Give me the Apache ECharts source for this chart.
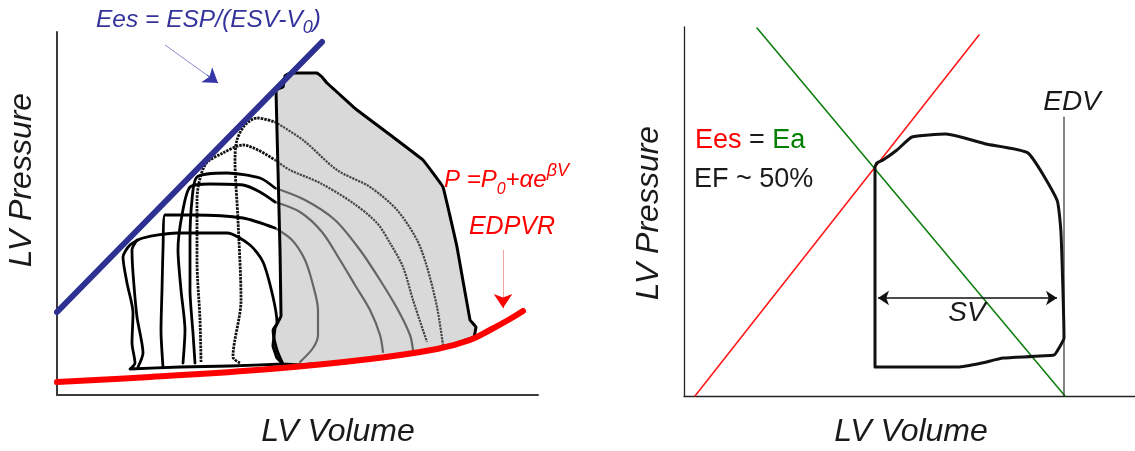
<!DOCTYPE html>
<html><head><meta charset="utf-8">
<script src="https://cdn.jsdelivr.net/npm/echarts@6/dist/echarts.min.js"></script>
<style>html,body{margin:0;padding:0;background:#fff}#c{width:1135px;height:451px}</style>
</head><body><div id="c"></div>
<script>
// ---------- LEFT PANEL (volume units, pressure units) ----------
var espvrLine = [[0, 83], [265, 353]];
var edpvrCurve = [[0, 13], [93, 18], [213, 26], [313, 36], [380, 46], [413, 55], [433, 65], [453, 76], [466, 84]];
var grayLoop = [[226,31],[220,37],[216,49],[218,67],[224,79],[223,145],[221,225],[219,305],[226,308],[228,319],[233,322],[260,322],[265,318],[270,312],[300,285],[336,258],[366,235],[386,208],[400,148],[413,75],[419,68],[417,58],[393,50],[363,43],[323,38],[283,33],[243,30],[226,31]];
var arcG1 = [[218,273],[246,255],[280,225],[313,208],[340,185],[360,155],[370,128],[380,88],[386,50]];
var arcG2 = [[218,235],[233,225],[263,212],[296,192],[320,172],[333,152],[346,128],[356,95],[370,53]];
var arcG3 = [[218,207],[248,195],[278,175],[303,145],[323,115],[341,85],[353,60],[356,45]];
var arcG4 = [[218,193],[243,183],[265,163],[283,135],[298,110],[313,85],[323,60],[326,43]];
var arcG5 = [[218,167],[235,155],[248,135],[256,110],[261,85],[261,60],[256,47],[243,33]];
var loopL1 = [[226,31],[173,29],[123,28],[73,26],[78,32],[75,52],[76,82],[70,112],[66,138],[73,150],[86,157],[120,162],[170,162],[193,150],[206,133],[216,98],[220,72],[216,65],[220,45],[226,31]];
var loopL0 = [[81,28],[86,42],[80,78],[76,122],[75,145],[80,155]];
var loopS3 = [[218,167],[186,177],[136,180],[108,180],[106,145],[105,105],[104,65],[106,28]];
var loopS2 = [[126,32],[128,65],[124,105],[121,145],[125,180],[133,208],[153,211],[186,210],[203,203],[218,193]];
var loopS1 = [[138,32],[136,62],[133,105],[133,155],[135,195],[140,218],[170,222],[203,217],[218,207]];
var loopD2 = [[144,33],[143,75],[140,135],[140,195],[148,230],[166,242],[186,250],[218,235]];
var loopD1 = [[183,32],[176,38],[184,95],[181,175],[178,235],[180,255],[188,270],[200,277],[218,273]];
var blueArrowShaft = [[108,350],[161,312]];
var blueArrowHead = [[150,320],[161,312]];
var redArrowShaft = [[446,145],[446,92]];
var redArrowHead = [[446,97],[446,87]];

// ---------- RIGHT PANEL ----------
var eesLine = [[11, 0], [295, 361]];
var eaLine = [[73, 368], [381, 0]];
var edvLine = [[380, 279], [380, 0]];
var pvLoop = [[191,29],[191,229],[193,233],[199,236],[213,246],[228,259],[262,262],[302,252],[344,243],[373,196],[377,163],[380,58],[375,48],[370,41],[319,38],[298,33],[274,29],[247,29],[191,29]];
var svArrow = [[194, 98], [373, 98]];

// ---------- labels ----------
var axisTitles = { pressure: 'LV Pressure', volume: 'LV Volume' };

var FF = '"Liberation Sans", Arial, sans-serif';
var chart = echarts.init(document.getElementById('c'), null, { renderer: 'canvas' });

function axisX(grid, max, lw, col) {
  return { gridIndex: grid, type: 'value', min: 0, max: max,
    axisLine: { show: true, onZero: false, lineStyle: { color: col, width: lw } },
    axisTick: { show: false }, axisLabel: { show: false }, splitLine: { show: false } };
}
function ln(data, color, width, opts) {
  return { type: 'line', data: data, xAxisIndex: opts.g, yAxisIndex: opts.g,
    showSymbol: false, symbol: 'none', smooth: opts.smooth || false, silent: true,
    lineStyle: { color: color, width: width, type: opts.type || 'solid', cap: opts.cap || 'round', join: 'round' },
    z: opts.z || 3 };
}
function arrow(data, color, width, g, sym, size, z) {
  return { type: 'lines', coordinateSystem: 'cartesian2d', xAxisIndex: g, yAxisIndex: g, silent: true,
    symbol: sym, symbolSize: size, z: z || 6,
    lineStyle: { color: color, width: width, opacity: 1, curveness: 0 },
    data: [{ coords: data }] };
}

var series = [
  { type: 'custom', xAxisIndex: 0, yAxisIndex: 0, data: grayLoop, silent: true, z: 1,
    renderItem: function (params, api) {
      if (params.dataIndex !== 0) return;
      var pts = grayLoop.map(function (p) { return api.coord(p); });
      return { type: 'polygon', shape: { points: pts }, style: { fill: '#d9d9d9' } };
    } },
  ln(arcG1, '#454545', 2.2, { g: 0, smooth: 0.3, type: [2.2, 1], cap: 'butt' }),
  ln(arcG2, '#454545', 2.2, { g: 0, smooth: 0.3, type: [2.2, 1], cap: 'butt' }),
  ln(arcG3, '#666', 2.2, { g: 0, smooth: 0.3 }),
  ln(arcG4, '#666', 2.2, { g: 0, smooth: 0.3 }),
  ln(arcG5, '#666', 2.2, { g: 0, smooth: 0.3 }),
  ln(loopD1, '#111', 2.8, { g: 0, smooth: 0.3, type: [2.5, 1], cap: 'butt' }),
  ln(loopD2, '#111', 2.8, { g: 0, smooth: 0.3, type: [2.5, 1], cap: 'butt' }),
  ln(loopS1, '#000', 2.8, { g: 0, smooth: 0.25 }),
  ln(loopS2, '#000', 2.8, { g: 0, smooth: 0.25 }),
  ln(loopS3, '#000', 2.8, { g: 0, smooth: 0.25 }),
  ln(loopL0, '#000', 2.8, { g: 0, smooth: 0.25 }),
  ln(loopL1, '#000', 2.8, { g: 0, smooth: 0.25 }),
  ln(grayLoop, '#000', 3, { g: 0, smooth: 0.05, z: 4 }),
  ln(espvrLine, '#2e3192', 6, { g: 0, z: 5 }),
  ln(edpvrCurve, '#ff0000', 6, { g: 0, smooth: 0.4, z: 5 }),
  arrow(blueArrowShaft, '#8a8ad0', 1, 0, ['none', 'none'], 1),
  arrow(blueArrowHead, '#3636a8', 1, 0, ['none', 'arrow'], 14),
  arrow(redArrowShaft, '#f5a3a3', 1, 0, ['none', 'none'], 1),
  arrow(redArrowHead, '#ff0000', 1, 0, ['none', 'arrow'], 14),
  // right panel
  ln(eesLine, '#ff1a1a', 1.6, { g: 1 }),
  ln(eaLine, '#108010', 1.6, { g: 1 }),
  ln(edvLine, '#333', 1.2, { g: 1 }),
  ln(pvLoop, '#111', 3, { g: 1, smooth: 0.15, z: 4 }),
  arrow(svArrow, '#111', 1.5, 1, ['arrow', 'arrow'], 11)
];

function txt(x, y, text, font, fill, extra) {
  var e = { type: 'text', x: x, y: y, silent: true, z: 100,
    style: { text: text, font: font, fill: fill, align: 'center', verticalAlign: 'middle',
      textAlign: 'center', textVerticalAlign: 'middle' } };
  if (extra) for (var k in extra) e[k] = extra[k];
  return e;
}
function rich(x, y, text, richDef, align) {
  return { type: 'text', x: x, y: y, silent: true, z: 100,
    style: { text: text, rich: richDef, align: align, verticalAlign: 'middle',
      textAlign: align, textVerticalAlign: 'middle', font: '24px ' + FF } };
}

var graphics = [
  txt(22, 180, axisTitles.pressure, 'italic 32px ' + FF, '#1a1a1a', { rotation: Math.PI / 2 }),
  txt(338, 432, axisTitles.volume, 'italic 32px ' + FF, '#1a1a1a'),
  txt(649, 213, axisTitles.pressure, 'italic 32px ' + FF, '#1a1a1a', { rotation: Math.PI / 2 }),
  txt(911, 432, axisTitles.volume, 'italic 32px ' + FF, '#1a1a1a'),
  rich(96, 20, '{a|Ees = ESP/(ESV-V}{s|0}{a|)}', {
    a: { fontSize: 24.5, fontStyle: 'italic', fontFamily: FF, fill: '#33339b', lineHeight: 34, verticalAlign: 'middle' },
    s: { fontSize: 18, fontStyle: 'italic', fontFamily: FF, fill: '#33339b', lineHeight: 16, verticalAlign: 'bottom' }
  }, 'left'),
  rich(444, 180, '{a|P =P}{s|0}{a|+αe}{p|βV}', {
    a: { fontSize: 24, fontStyle: 'italic', fontFamily: FF, fill: '#ff0000', lineHeight: 36, verticalAlign: 'middle' },
    s: { fontSize: 16, fontStyle: 'italic', fontFamily: FF, fill: '#ff0000', lineHeight: 16, verticalAlign: 'bottom' },
    p: { fontSize: 18, fontStyle: 'italic', fontFamily: FF, fill: '#ff0000', lineHeight: 30, verticalAlign: 'top' }
  }, 'left'),
  txt(512, 227, 'EDPVR', 'italic 25px ' + FF, '#ff0000'),
  rich(695, 141, '{r|Ees}{k| = }{g|Ea}', {
    r: { fontSize: 27, fontFamily: FF, fill: '#ff0000' },
    k: { fontSize: 27, fontFamily: FF, fill: '#1a1a1a' },
    g: { fontSize: 27, fontFamily: FF, fill: '#008000' }
  }, 'left'),
  rich(694, 180, '{k|EF ~ 50%}', { k: { fontSize: 27, fontFamily: FF, fill: '#1a1a1a' } }, 'left'),
  txt(1072, 102, 'EDV', 'italic 28px ' + FF, '#1a1a1a'),
  txt(967, 313, 'SV', 'italic 28px ' + FF, '#1a1a1a')
];

chart.setOption({
  animation: false,
  backgroundColor: '#fff',
  grid: [
    { left: 57, top: 32, width: 481, height: 363 },
    { left: 684, top: 27, width: 451, height: 369 }
  ],
  xAxis: [axisX(0, 481, 2, '#3a3a3a'), axisX(1, 451, 1.3, '#222')],
  yAxis: [axisX(0, 363, 2, '#3a3a3a'), axisX(1, 369, 1.3, '#222')],
  series: series,
  graphic: { elements: graphics }
});
</script></body></html>
